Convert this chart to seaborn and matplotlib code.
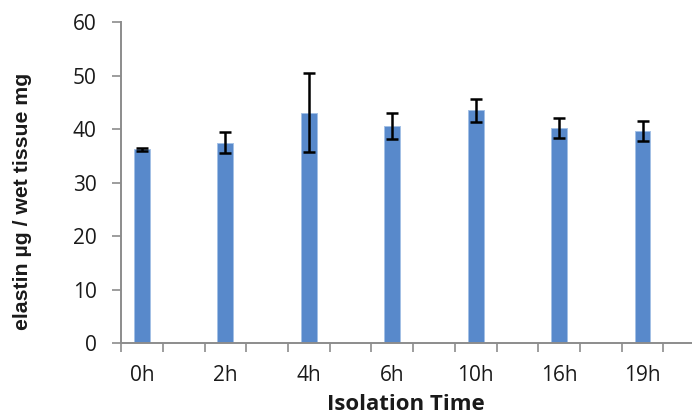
import seaborn as sns
import matplotlib.pyplot as plt
import numpy as np
import pandas as pd

# isolation times and measured elastin (mean +/- sd)
times = ['0h', '2h', '4h', '6h', '10h', '16h', '19h']
slots = [0, 2, 4, 6, 8, 10, 12]
elastin = [36.2, 37.5, 43.1, 40.6, 43.5, 40.2, 39.6]
sd = [0.2, 1.9, 7.4, 2.4, 2.2, 1.9, 1.9]

sns.set_style("white")
plt.rcParams['font.family'] = ['Open Sans', 'DejaVu Sans']

df = pd.DataFrame({'slot': slots, 'elastin': elastin})

fig = plt.figure(figsize=(6.92, 4.18), dpi=100)
ax = fig.add_axes([0.175, 0.179, 0.844, 0.768])

sns.barplot(data=df, x='slot', y='elastin', native_scale=True, width=0.19,
            color='#5889CB', edgecolor='#A3C0E6', linewidth=0.7,
            errorbar=None, ax=ax, saturation=1)
ax.errorbar(df['slot'], df['elastin'], yerr=sd, fmt='none', ecolor='black',
            elinewidth=1.8, capsize=4.5, capthick=1.8)

ax.set_ylim(0, 60)
ax.set_xlim(-0.5, 13.5)
ax.set_yticks(range(0, 61, 10))
ax.set_xticks(slots)
ax.set_xticklabels(times)
ax.set_xticks(np.arange(-0.5, 14, 1), minor=True)

grey = '#8C8C8C'
for s in ['top', 'right']:
    ax.spines[s].set_visible(False)
for s in ['left', 'bottom']:
    ax.spines[s].set_color(grey)
    ax.spines[s].set_linewidth(1.4)

ax.tick_params(axis='y', which='major', direction='out', length=6.5, width=1.2,
               color=grey, labelsize=15, labelcolor='#1a1a1a', pad=11, left=True)
ax.tick_params(axis='x', which='major', length=0, labelsize=15,
               labelcolor='#1a1a1a', pad=16)
ax.tick_params(axis='x', which='minor', direction='out', length=6.5, width=1.2,
               color=grey, bottom=True)

ax.set_xlabel('Isolation Time', fontsize=16, fontweight='bold', color='#1a1a1a')
ax.xaxis.set_label_coords(0.488, -0.158)
ax.set_ylabel('elastin µg / wet tissue mg', fontsize=15.3, fontweight='bold',
              family=['Liberation Sans', 'DejaVu Sans'], color='#1a1a1a')
ax.yaxis.set_label_coords(-0.152, 0.442)

plt.savefig('out.png', dpi=100)
